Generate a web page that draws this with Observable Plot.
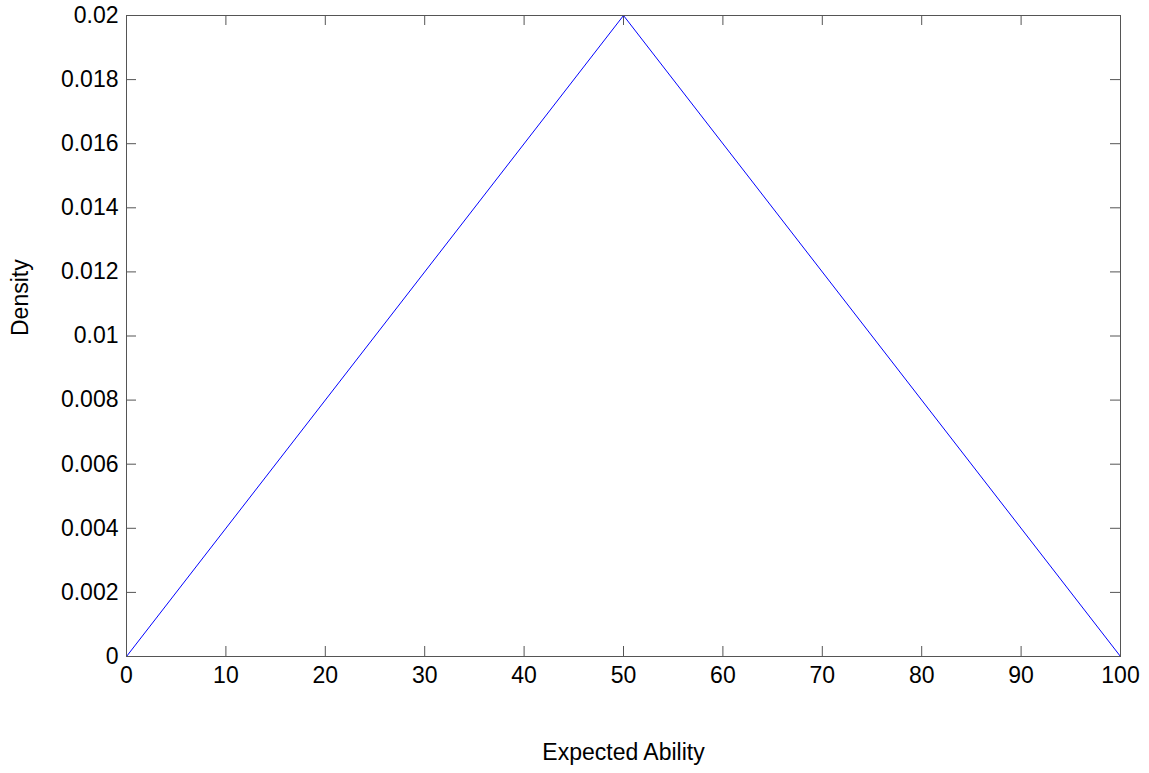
<!DOCTYPE html>
<html>
<head>
<meta charset="utf-8">
<script src="https://cdn.jsdelivr.net/npm/d3@7"></script>
<script src="https://cdn.jsdelivr.net/npm/@observablehq/plot@0.6"></script>
<style>
  html, body { margin: 0; padding: 0; background: #fff; }
  #chart { width: 1149px; height: 773px; }
</style>
</head>
<body>
<div id="chart"></div>
<script>
// Data
const abilityX = [0, 50, 100];
const densityY = [0, 0.02, 0];
const xTicks = [0, 10, 20, 30, 40, 50, 60, 70, 80, 90, 100];
const yTicks = [0, 0.002, 0.004, 0.006, 0.008, 0.01, 0.012, 0.014, 0.016, 0.018, 0.02];
const yTickLabels = ["0", "0.002", "0.004", "0.006", "0.008", "0.01", "0.012", "0.014", "0.016", "0.018", "0.02"];
const xLabel = "Expected Ability";
const yLabel = "Density";

const W = 1149, H = 773;
const mL = 126, mR = 29, mT = 15, mB = 117;
const innerW = W - mL - mR, innerH = H - mT - mB;
const tickLen = 10;
const axisColor = "#555";
const fs = 23;
const font = "'Liberation Sans', Arial, Helvetica, sans-serif";

const pts = abilityX.map((x, i) => ({x, y: densityY[i]}));
const yLabelMap = new Map(yTicks.map((t, i) => [t, yTickLabels[i]]));

const chart = Plot.plot({
  width: W,
  height: H,
  marginLeft: mL,
  marginRight: mR,
  marginTop: mT,
  marginBottom: mB,
  style: {fontFamily: font, fontSize: fs + "px", color: "#000", background: "#fff"},
  x: {domain: [0, 100]},
  y: {domain: [0, 0.02]},
  marks: [
    Plot.axisX(xTicks, {anchor: "bottom", tickSize: 0, tickPadding: 10, label: null, fontSize: fs, fill: "#000"}),
    Plot.axisY(yTicks, {anchor: "left", tickSize: 0, tickPadding: 8, label: null, fontSize: fs, fill: "#000",
      tickFormat: d => yLabelMap.get(d)}),
    // inward ticks, mirrored on all four sides
    Plot.tickX(xTicks, {x: d => d, insetTop: innerH - tickLen, stroke: axisColor}),
    Plot.tickX(xTicks, {x: d => d, insetBottom: innerH - tickLen, stroke: axisColor}),
    Plot.tickY(yTicks, {y: d => d, insetRight: innerW - tickLen, stroke: axisColor}),
    Plot.tickY(yTicks, {y: d => d, insetLeft: innerW - tickLen, stroke: axisColor}),
    Plot.line(pts, {x: "x", y: "y", stroke: "#0000ff", strokeWidth: 1}),
    Plot.frame({stroke: axisColor, strokeWidth: 1}),
    Plot.text([xLabel], {frameAnchor: "bottom", dy: 96, lineAnchor: "middle", fontSize: fs, fill: "#000"}),
    Plot.text([yLabel], {frameAnchor: "left", dx: -106, rotate: -90, lineAnchor: "middle", fontSize: fs, fill: "#000"})
  ]
});
document.getElementById("chart").appendChild(chart);
</script>
</body>
</html>
